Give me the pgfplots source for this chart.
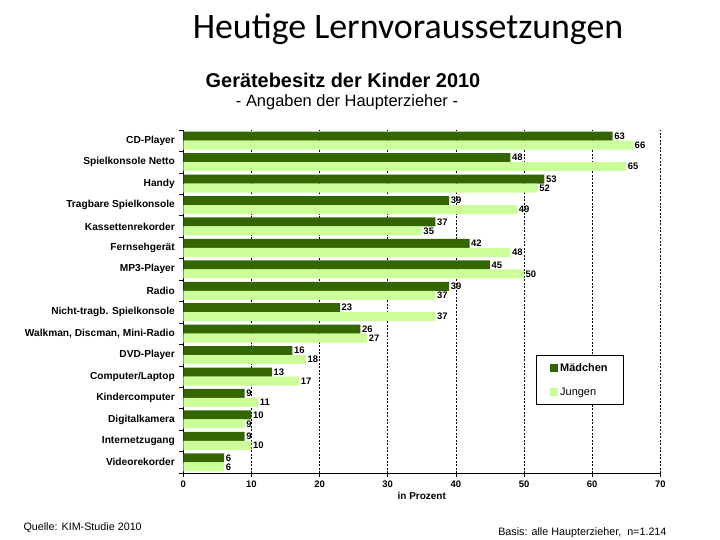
\documentclass[border=0pt]{standalone}
\usepackage{pgfplots}
\pgfplotsset{compat=1.18}
\usepackage{pgfplotstable}
\usepackage{fontspec}
\setmainfont{Liberation Sans}
\newfontfamily\titlefont{Carlito}
\definecolor{dgreen}{HTML}{336600}
\definecolor{lgreen}{HTML}{CCFF99}
\pgfplotstableread{
pos m j
15 63 66
14 48 65
13 53 52
12 39 49
11 37 35
10 42 48
9 45 50
8 39 37
7 23 37
6 26 27
5 16 18
4 13 17
3 9 11
2 10 9
1 9 10
0 6 6
}\datatable
\begin{document}
\begin{tikzpicture}
\useasboundingbox (0bp,0bp) rectangle (720bp,540bp);
\node[font=\titlefont\fontsize{36}{40}\selectfont] at (408bp,511bp) {Heutige Lernvoraussetzungen};
\node[font=\bfseries\fontsize{20}{22}\selectfont] at (343bp,460bp) {Gerätebesitz der Kinder 2010};
\node[font=\fontsize{16.5}{18}\selectfont] at (347bp,438bp) {- Angaben der Haupterzieher -};
\node[font=\fontsize{10.8}{12}\selectfont, anchor=west] at (20bp,12bp) {Quelle: KIM-Studie 2010};
\node[font=\fontsize{10.8}{12}\selectfont, anchor=east] at (670bp,7bp) {Basis: alle Haupterzieher,\ \ n=1.214};
\begin{axis}[
  at={(183.3bp,67bp)}, anchor=south west,
  scale only axis, width=477bp, height=343bp,
  xmin=0, xmax=70, ymin=-0.5, ymax=15.5,
  xbar, bar width=0.42,
  axis x line*=bottom, axis y line*=left,
  xtick={0,10,...,70},
  xmajorgrids, grid style={black, dash pattern=on 2pt off 1.5pt, line width=0.6pt},
  ytick={0,...,15},
  yticklabels={Videorekorder, Internetzugang, Digitalkamera, Kindercomputer, Computer/Laptop, DVD-Player, {Walkman, Discman, Mini-Radio}, Nicht-tragb. Spielkonsole, Radio, MP3-Player, Fernsehgerät, Kassettenrekorder, Tragbare Spielkonsole, Handy, Spielkonsole Netto, CD-Player},
  major y tick style={draw=none},
  minor ytick={-0.5,0.5,...,15.5},
  minor tick length=4bp,
  major tick length=4bp,
  tick align=outside,
  axis line style={line width=0.8pt},
  tick style={black, line width=0.6pt},
  xticklabel style={font=\bfseries\fontsize{9.5}{10}\selectfont},
  yticklabel style={font=\bfseries\fontsize{10.2}{11}\selectfont, xshift=-1bp},
  /pgf/number format/assume math mode=true,
  xlabel={in Prozent}, xlabel style={font=\bfseries\fontsize{10}{11}\selectfont, yshift=2bp},
  nodes near coords,
  every node near coord/.append style={font=\bfseries\fontsize{9.5}{10}\selectfont, anchor=west, inner sep=1.5bp},
  legend style={at={(0.739,0.344)}, anchor=north west, draw=black, line width=0.8pt,
    font=\fontsize{11}{12}\selectfont, row sep=11bp, inner xsep=14bp, inner ysep=6bp},
  legend cell align=left,
  legend image code/.code={\fill[#1,draw=none] (0bp,-4bp) rectangle (8bp,4bp);},
]
\addplot[fill=dgreen, draw=none, bar shift=0.21] table[x=m,y=pos]{\datatable};
\addlegendentry{\bfseries Mädchen}
\addplot[fill=lgreen, draw=none, bar shift=-0.21] table[x=j,y=pos]{\datatable};
\addlegendentry{Jungen}
\end{axis}
\end{tikzpicture}
\end{document}
